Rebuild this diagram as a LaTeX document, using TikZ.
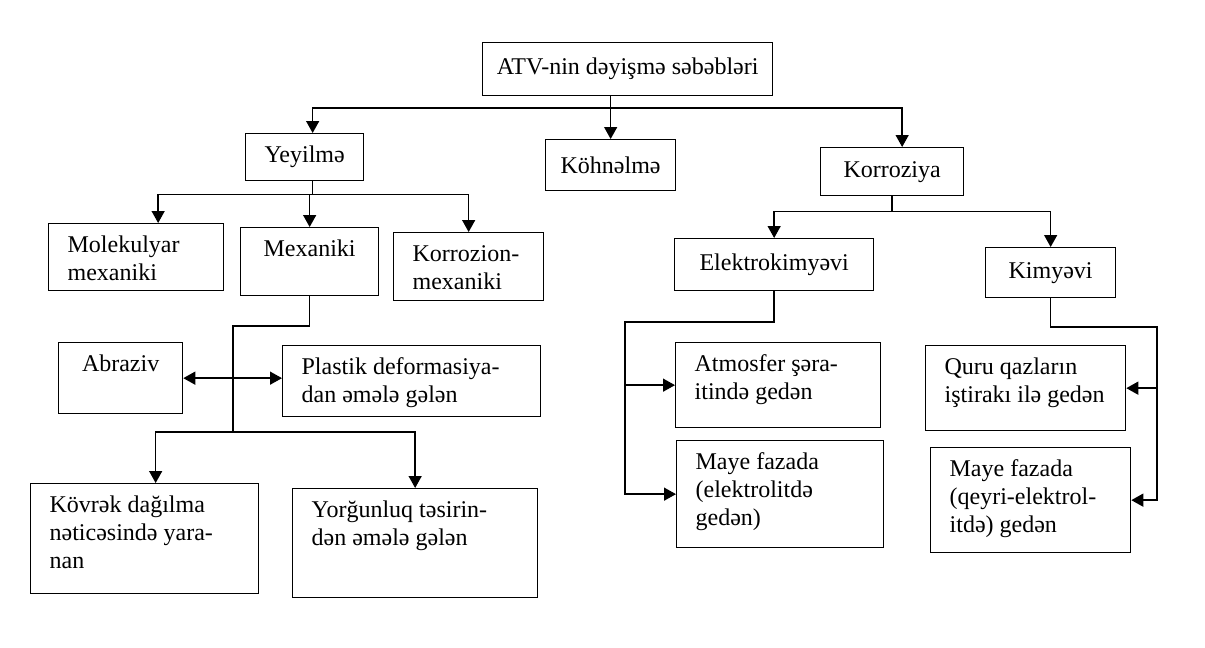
\documentclass[tikz,border=0pt]{standalone}
\usepackage{fontspec}
\setmainfont{Liberation Serif}
\usetikzlibrary{arrows.meta,calc}
\tikzset{
    box/.style = {
        draw,
        line width=1.3pt,
        anchor=north west,
        inner sep=0pt,
        font=\fontsize{24}{28}\selectfont,
        },
    mid box/.style 2 args = {
        box,
        minimum width=#1,
        minimum height=#2,
        },
    left box/.style 2 args = {
        box,
        execute at begin node={\begin{minipage}[t][#2][t]{#1}\vspace*{9pt}\raggedright\leftskip=19pt\relax\strut},
        execute at end node={\end{minipage}},
        },
    top box/.style 2 args = {
        box,
        execute at begin node={\begin{minipage}[t][#2][t]{#1}\vspace*{9pt}\centering\strut},
        execute at end node={\end{minipage}},
        },
    link/.style = {
        line width=1.4pt,
        },
    arr/.style = {
        link,
        -{Triangle[width=13pt,length=12pt]},
        },
    both arr/.style = {
        link,
        {Triangle[width=13pt,length=12pt]}-{Triangle[width=13pt,length=12pt]},
        },
}
\begin{document}
\begin{tikzpicture}[x=1pt,y=-1pt]
    \useasboundingbox (0,0) rectangle (1205,648);

    \node[mid box={290pt}{53pt}] (atv) at (482,42) {ATV-nin dəyişmə səbəbləri};
    \node[mid box={118pt}{47pt}] (yey) at (245,133) {Yeyilmə};
    \node[mid box={130pt}{51pt}] (kohne) at (545,139) {Köhnəlmə};
    \node[mid box={143pt}{48pt}] (korr) at (820,147) {Korroziya};

    \node[left box={175pt}{67pt}] (mol) at (48,223) {Molekulyar\\mexaniki};
    \node[top box={138pt}{68pt}] (mex) at (240,227) {Mexaniki};
    \node[left box={150pt}{68pt}] (kmex) at (393,232) {Korrozion-\\mexaniki};
    \node[mid box={199pt}{52pt}] (elk) at (674,238) {Elektrokimyəvi};
    \node[mid box={130pt}{50pt}] (kim) at (985,247) {Kimyəvi};

    \node[top box={124pt}{71pt}] (abr) at (58,342) {Abraziv};
    \node[left box={258pt}{71pt}] (pla) at (282,345) {Plastik deformasiya-\\dan əmələ gələn};
    \node[left box={228pt}{110pt}] (kov) at (30,483) {Kövrək dağılma\\nəticəsində yara-\\nan};
    \node[left box={245pt}{109pt}] (yor) at (292,488) {Yorğunluq təsirin-\\dən əmələ gələn};

    \node[left box={205pt}{85pt}] (atm) at (675,342) {Atmosfer şəra-\\itində gedən};
    \node[left box={207pt}{107pt}] (may1) at (676,440) {Maye fazada\\(elektrolitdə\\gedən)};
    \node[left box={200pt}{85pt}] (quru) at (925,345) {Quru qazların\\iştirakı ilə gedən};
    \node[left box={200pt}{105pt}] (may2) at (930,447) {Maye fazada\\(qeyri-elektrol-\\itdə) gedən};

    \coordinate (tb) at ($(kohne.north)+(0,-31)$);
    \coordinate (yb) at ($(yey.south)+(0,13)$);
    \coordinate (mj) at (233,326);
    \coordinate (mb) at (233,432);
    \coordinate (kb) at ($(korr.south)+(0,15)$);
    \coordinate (ej) at (625,322);
    \coordinate (kj) at (1157,327);

    \draw[arr] (atv.south -| kohne.north) -- (kohne.north);
    \draw[arr] (tb) -| ([xshift=8pt]yey.north);
    \draw[arr] (tb) -| ([xshift=10pt]korr.north);

    \draw[link] ([xshift=8pt]yey.south) -- ([xshift=8pt]yb);
    \draw[arr] (yb) -| ([xshift=22pt]mol.north);
    \draw[arr] (yb) -| (mex.north);
    \draw[arr] (yb) -| (kmex.north);

    \draw[link] (mex.south) |- (mj) -- (mb);
    \draw[both arr] (abr.east) -- (abr.east -| pla.west);
    \draw[arr] (mb) -| ([xshift=11pt]kov.north);
    \draw[arr] (mb) -| (yor.north);

    \draw[link] (korr.south) -- (kb);
    \draw[arr] (kb) -| (elk.north);
    \draw[arr] (kb) -| (kim.north);

    \draw[arr] (elk.south) |- (ej) |- (may1.west);
    \draw[arr] (ej) |- (atm.west);

    \draw[arr] (kim.south) |- (kj) |- (may2.east);
    \draw[arr] (kj) |- (quru.east);
\end{tikzpicture}
\end{document}
